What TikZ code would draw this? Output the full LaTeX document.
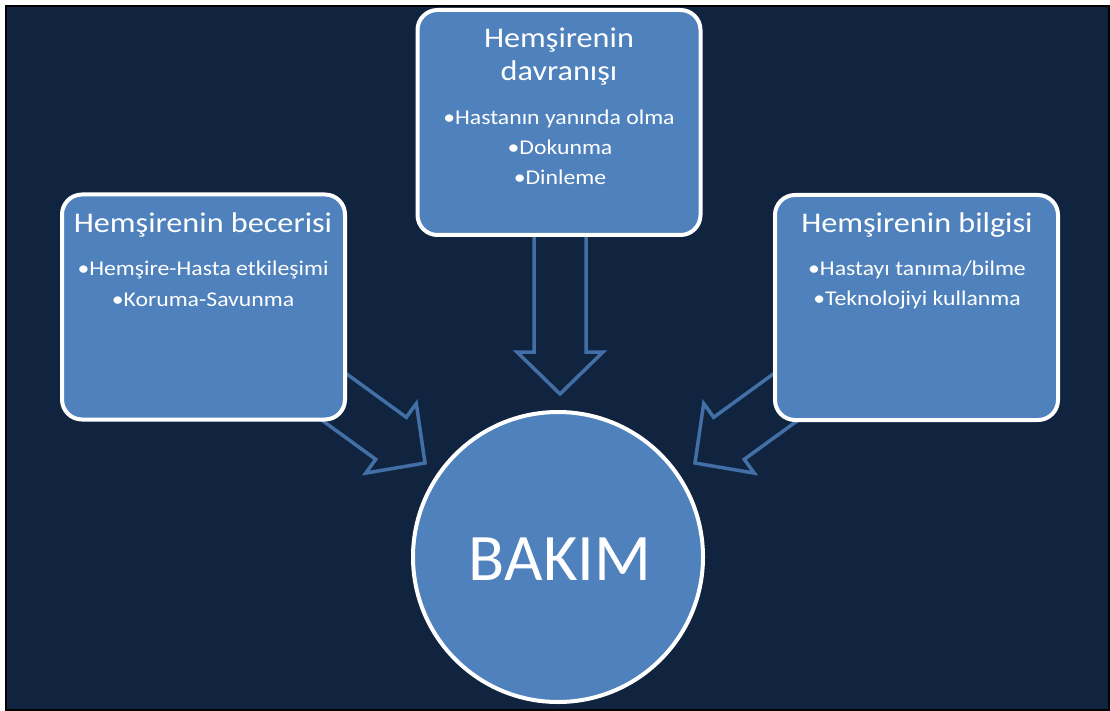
\documentclass[tikz,border=0pt]{standalone}
\usepackage{fontspec}
\setmainfont{Carlito}
\newfontfamily\widefont[FakeStretch=1.13]{Carlito}
\definecolor{navy}{RGB}{16,36,63}
\definecolor{boxblue}{RGB}{79,129,189}
\definecolor{arrowblue}{RGB}{66,112,166}
\begin{document}
\begin{tikzpicture}[x=1pt,y=-1pt,
  box/.style={draw=white, line width=4pt, fill=boxblue, rounded corners=20pt,
    minimum width=283pt, minimum height=225pt, inner sep=0pt},
  titletext/.style={text=white, font=\widefont\fontsize{28.5}{33}\selectfont, anchor=base, inner sep=0pt},
  itemtext/.style={text=white, font=\widefont\fontsize{21}{25}\selectfont, anchor=base, inner sep=0pt},
  blockarrow/.style={draw=arrowblue, line width=3.5pt, fill=navy, line join=miter}]
\useasboundingbox (0,0) rectangle (1110,711);
\fill[white] (0,0) rectangle (1110,711);
\draw[black, line width=2pt, fill=navy] (6,6) rectangle (1109,710);
% block arrows (drawn behind boxes)
\begin{scope}[shift={(560,394)}, rotate=-90]
  \draw[blockarrow] (0,0) -- (-42,43) -- (-42,26) -- (-160,26) -- (-160,-26) -- (-42,-26) -- (-42,-43) -- cycle;
\end{scope}
\begin{scope}[shift={(425,463)}, rotate=-36]
  \draw[blockarrow] (0,0) -- (-42,43) -- (-42,26) -- (-160,26) -- (-160,-26) -- (-42,-26) -- (-42,-43) -- cycle;
\end{scope}
\begin{scope}[shift={(695,463)}, rotate=-144]
  \draw[blockarrow] (0,0) -- (-42,43) -- (-42,26) -- (-160,26) -- (-160,-26) -- (-42,-26) -- (-42,-43) -- cycle;
\end{scope}
% boxes
\node[box] (leftbox) at (203.5,307) {};
\node[box] (topbox) at (559,122.5) {};
\node[box] (rightbox) at (916.5,307.5) {};
\node[circle, draw=white, line width=4pt, fill=boxblue, minimum size=290pt, inner sep=0pt] (bakim) at (558,557) {};
% texts
\node[text=white, font=\fontsize{66.5}{70}\selectfont, anchor=base, inner sep=0pt] (bakimtext) at (560,580) {BAKIM};
\node[titletext] (lt) at (203,233) {Hemşirenin becerisi};
\node[itemtext] (l1) at (203,275) {•Hemşire-Hasta etkileşimi};
\node[itemtext] (l2) at (203,306) {•Koruma-Savunma};
\node[titletext] (t1) at (559,48) {Hemşirenin};
\node[titletext] (t2) at (559,81) {davranışı};
\node[itemtext] (ti1) at (559,125) {•Hastanın yanında olma};
\node[itemtext] (ti2) at (560,155) {•Dokunma};
\node[itemtext] (ti3) at (560,185) {•Dinleme};
\node[titletext] (rt) at (917,233) {Hemşirenin bilgisi};
\node[itemtext] (r1) at (917,275) {•Hastayı tanıma/bilme};
\node[itemtext] (r2) at (917,305) {•Teknolojiyi kullanma};
\end{tikzpicture}
\end{document}
